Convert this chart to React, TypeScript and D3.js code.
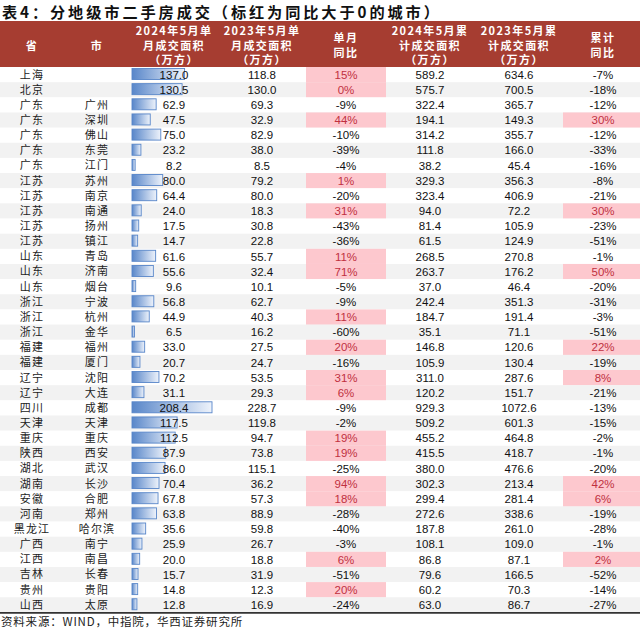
import React from "react";
import * as d3 from "d3";

const provinces = ["上海","北京","广东","广东","广东","广东","广东","江苏","江苏","江苏","江苏","江苏","山东","山东","山东","浙江","浙江","浙江","福建","福建","辽宁","辽宁","四川","天津","重庆","陕西","湖北","湖南","安徽","河南","黑龙江","广西","江西","吉林","贵州","山西"];
const cities = ["","","广州","深圳","佛山","东莞","江门","苏州","南京","南通","扬州","镇江","青岛","济南","烟台","宁波","杭州","金华","福州","厦门","沈阳","大连","成都","天津","重庆","西安","武汉","长沙","合肥","郑州","哈尔滨","南宁","南昌","长春","贵阳","太原"];
const may2024 = [137.0,130.5,62.9,47.5,75.0,23.2,8.2,80.0,64.4,24.0,17.5,14.7,61.6,55.6,9.6,56.8,44.9,6.5,33.0,20.7,70.2,31.1,208.4,117.5,112.5,87.9,86.0,70.4,67.8,63.8,35.6,25.9,20.0,15.7,14.8,12.8];
const may2023 = [118.8,130.0,69.3,32.9,82.9,38.0,8.5,79.2,80.0,18.3,30.8,22.8,55.7,32.4,10.1,62.7,40.3,16.2,27.5,24.7,53.5,29.3,228.7,119.8,94.7,73.8,115.1,36.2,57.3,88.9,59.8,26.7,18.8,31.9,12.3,16.9];
const monthYoY = [15,0,-9,44,-10,-39,-4,1,-20,31,-43,-36,11,71,-5,-9,11,-60,20,-16,31,6,-9,-2,19,19,-25,94,18,-28,-40,-3,6,-51,20,-24];
const cum2024 = [589.2,575.7,322.4,194.1,314.2,111.8,38.2,329.3,323.4,94.0,81.4,61.5,268.5,263.7,37.0,242.4,184.7,35.1,146.8,105.9,311.0,120.2,929.3,509.2,455.2,415.5,380.0,302.3,299.4,272.6,187.8,108.1,86.8,79.6,60.2,63.0];
const cum2023 = [634.6,700.5,365.7,149.3,355.7,166.0,45.4,356.3,406.9,72.2,105.9,124.9,270.8,176.2,46.4,351.3,191.4,71.1,120.6,130.4,287.6,151.7,1072.6,601.3,464.8,418.7,476.6,213.4,281.4,338.6,261.0,109.0,87.1,166.5,70.3,86.7];
const cumYoY = [-7,-18,-12,30,-12,-33,-16,-8,-21,30,-23,-51,-1,50,-20,-31,-3,-51,22,-19,8,-21,-13,-15,-2,-1,-20,42,6,-19,-28,-1,2,-52,-14,-27];

const headers = [
  ["省"],
  ["市"],
  ["2024年5月单", "月成交面积", "（万方）"],
  ["2023年5月单", "月成交面积", "（万方）"],
  ["单月", "同比"],
  ["2024年5月累", "计成交面积", "（万方）"],
  ["2023年5月累", "计成交面积", "（万方）"],
  ["累计", "同比"],
];

const title = "表4：分地级市二手房成交（标红为同比大于0的城市）";
const source = "资料来源：WIND，中指院，华西证券研究所";

const W = 640;
const H = 630;
const colCenters = [32, 97, 174, 262, 346, 430, 519, 603];
const colEdges = [0, 65, 130, 218, 306, 386, 475, 563, 640];
const headerTop = 21;
const headerBottom = 67;
const tableBottom = 612.4;

const CJK = "'Noto Sans CJK SC', sans-serif";
const NUM = "'Liberation Sans', Arial, sans-serif";

export default function App() {
  const idx = d3.range(provinces.length);
  const y = d3.scaleBand<number>().domain(idx).range([headerBottom, tableBottom]).padding(0);
  const rh = y.bandwidth();
  const barX = colEdges[2] + 2;
  const bw = d3.scaleLinear().domain([0, d3.max(may2024) as number]).range([0, 80]);

  const fmt = (v: number) => v.toFixed(1);
  const pct = (v: number) => `${v}%`;

  return (
    <svg width={W} height={H} style={{ position: "absolute", left: 0, top: 0, background: "#fff" }}>
      <defs>
        <linearGradient id="barGrad" x1="0" x2="1" y1="0" y2="0">
          <stop offset="0" stopColor="#5886c9" />
          <stop offset="1" stopColor="#eef3fb" />
        </linearGradient>
      </defs>
      <rect x={0} y={0} width={W} height={H} fill="#fff" />
      <text x={2} y={17.6} fontFamily={CJK} fontWeight={700} fontSize={15.2} letterSpacing={2.9} fill="#111">{title}</text>

      <rect x={0} y={headerTop} width={W} height={headerBottom - headerTop} fill="#a63d31" />
      {headers.map((lines, c) => {
        const lh = 14.5;
        const mid = (headerTop + headerBottom) / 2 + 1.6;
        const start = mid - ((lines.length - 1) * lh) / 2;
        return (
          <text key={`h${c}`} x={colCenters[c]} y={start} dy="0.36em" textAnchor="middle"
            fontFamily={CJK} fontWeight={700} fontSize={11} letterSpacing={1.4} fill="#fff">
            {lines.map((ln, k) => (
              <tspan key={k} x={colCenters[c]} y={start + k * lh} dy="0.36em">{ln}</tspan>
            ))}
          </text>
        );
      })}

      {idx.map((i) => {
        const top = y(i) as number;
        const cy = top + rh / 2;
        const hi1 = monthYoY[i] >= 0;
        const hi2 = cumYoY[i] >= 0;
        return (
          <g key={i}>
            <rect x={0} y={top} width={W} height={rh + 0.3} fill={i % 2 === 1 ? "#f2f2f2" : "#ffffff"} />
            {hi1 && <rect x={colEdges[4]} y={top} width={colEdges[5] - colEdges[4]} height={rh + 0.3} fill="#fdc8ce" />}
            {hi2 && <rect x={colEdges[7]} y={top} width={colEdges[8] - colEdges[7]} height={rh + 0.3} fill="#fdc8ce" />}
            <rect x={barX} y={top + 1.5} width={bw(may2024[i])} height={11} fill="url(#barGrad)" stroke="#5886c9" strokeWidth={0.9} />
            <text x={colCenters[0]} y={cy} dy="0.36em" textAnchor="middle" fontFamily={CJK} fontSize={11} letterSpacing={1.2} fill="#222">{provinces[i]}</text>
            <text x={colCenters[1]} y={cy} dy="0.36em" textAnchor="middle" fontFamily={CJK} fontSize={11} letterSpacing={1.2} fill="#222">{cities[i]}</text>
            <text x={colCenters[2]} y={cy} dy="0.36em" textAnchor="middle" fontFamily={NUM} fontSize={11.5} fill="#111">{fmt(may2024[i])}</text>
            <text x={colCenters[3]} y={cy} dy="0.36em" textAnchor="middle" fontFamily={NUM} fontSize={11.5} fill="#111">{fmt(may2023[i])}</text>
            <text x={colCenters[4]} y={cy} dy="0.36em" textAnchor="middle" fontFamily={NUM} fontSize={11.5} fill={hi1 ? "#c0303f" : "#111"}>{pct(monthYoY[i])}</text>
            <text x={colCenters[5]} y={cy} dy="0.36em" textAnchor="middle" fontFamily={NUM} fontSize={11.5} fill="#111">{fmt(cum2024[i])}</text>
            <text x={colCenters[6]} y={cy} dy="0.36em" textAnchor="middle" fontFamily={NUM} fontSize={11.5} fill="#111">{fmt(cum2023[i])}</text>
            <text x={colCenters[7]} y={cy} dy="0.36em" textAnchor="middle" fontFamily={NUM} fontSize={11.5} fill={hi2 ? "#c0303f" : "#111"}>{pct(cumYoY[i])}</text>
          </g>
        );
      })}

      <line x1={0} x2={W} y1={tableBottom + 0.5} y2={tableBottom + 0.5} stroke="#333" strokeWidth={1.6} />
      <text x={1} y={622} dy="0.36em" fontFamily={CJK} fontSize={11.5} letterSpacing={0.8} fill="#222">{source}</text>
    </svg>
  );
}
